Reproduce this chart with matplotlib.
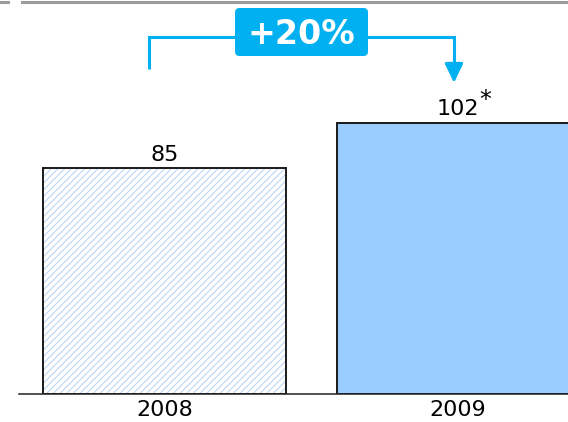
import numpy as np
import matplotlib
matplotlib.use('Agg')
import matplotlib.pyplot as plt
from matplotlib.patches import FancyBboxPatch
from matplotlib.lines import Line2D

# data
years = ['2008', '2009']
values = [85, 102]
growth_label = '+20%'

blue = '#00b0f0'
plt.rcParams['font.family'] = ['DejaVu Sans']
plt.rcParams['hatch.linewidth'] = 0.8

fig = plt.figure(figsize=(5.68, 4.22), dpi=100)
ax = fig.add_axes([19 / 568, 28 / 422, 549 / 568, 394 / 422])

xpos = np.arange(len(years))
bar_w = 0.829

# 2008: hatched, 2009: solid
ax.bar(xpos[0], values[0], width=bar_w, color='white', edgecolor='#bcd6f5',
       hatch='/////', linewidth=0, zorder=2)
ax.bar(xpos[0], values[0], width=bar_w, color='none', edgecolor='#1a1a1a',
       linewidth=1.4, zorder=3)
ax.bar(xpos[1], values[1], width=bar_w, color='#99ccff', edgecolor='#1a1a1a',
       linewidth=1.4, zorder=3)

# value labels
ax.annotate(str(values[0]), (xpos[0], values[0]), xytext=(0, 5.5),
            textcoords='offset points', ha='center', va='baseline', fontsize=16)
ax.annotate(str(values[1]), (xpos[1], values[1]), xytext=(0, 5.5),
            textcoords='offset points', ha='center', va='baseline', fontsize=16)
ax.annotate('*', (xpos[1], values[1]), xytext=(15, 11.5),
            textcoords='offset points', ha='left', va='baseline', fontsize=17)

ax.set_xlim(-0.498, 1.375)
ax.set_ylim(0, 148.3)
ax.set_xticks(xpos, years, fontsize=16)
ax.set_yticks([])
ax.tick_params(axis='x', length=0, pad=4)
for s in ['top', 'left', 'right']:
    ax.spines[s].set_visible(False)
ax.spines['bottom'].set_color('#222222')
ax.spines['bottom'].set_linewidth(1.1)
ax.spines['bottom'].set_zorder(4)

# growth bracket
x_l, x_r = xpos[0] - 0.055, xpos[1] - 0.014
y_top = 134.4
ax.plot([x_l, x_l, x_r, x_r], [122.4, y_top, y_top, 124.0], color=blue, lw=2.2,
        solid_capstyle='butt', solid_joinstyle='miter', clip_on=False)
ax.annotate('', xy=(x_r, 117.1), xytext=(x_r, 124.5),
            arrowprops=dict(arrowstyle='-|>,head_length=1.15,head_width=0.55',
                            color=blue, lw=2.2, shrinkA=0, shrinkB=0))

# growth box (figure coords)
box = FancyBboxPatch((235 / 568, 1 - 56 / 422), 133 / 568, 48 / 422,
                     boxstyle='round,pad=0,rounding_size=0.008',
                     mutation_aspect=568 / 422, transform=fig.transFigure,
                     facecolor=blue, edgecolor='none', zorder=5)
fig.patches.append(box)
fig.text(301.5 / 568, 1 - 34 / 422, growth_label, ha='center', va='center',
         fontsize=24, fontweight='bold', color='white', zorder=6)

# top grey rule
fig.add_artist(Line2D([0, 8 / 568], [1 - 1.5 / 422] * 2, color='#9c9c9c',
                      lw=2.2, transform=fig.transFigure))
fig.add_artist(Line2D([22 / 568, 1], [1 - 1.5 / 422] * 2, color='#9c9c9c',
                      lw=2.2, transform=fig.transFigure))

fig.savefig('out.png', dpi=100)
